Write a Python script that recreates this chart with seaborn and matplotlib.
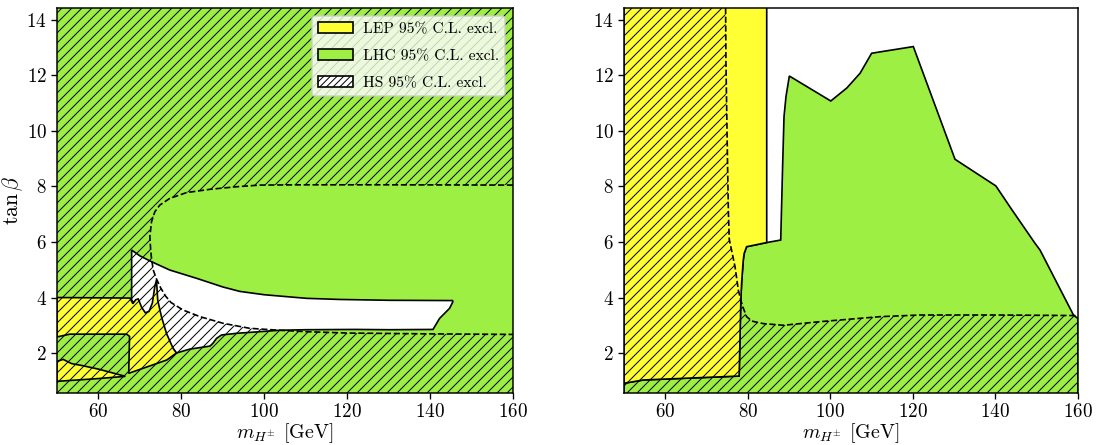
import numpy as np
import matplotlib
matplotlib.use("Agg")
import matplotlib.pyplot as plt
import seaborn as sns
from matplotlib.patches import Patch

# ---------------- data ----------------
# Left panel: LHC-allowed hole (white) inside the LHC excluded region
left_hole_x = [68.0, 70.0, 72.8, 77.2, 83.7, 90.0, 94.1, 100.0, 110.2, 118.2, 130.0, 145.4,
               145.5, 144.7, 142.3, 140.7, 130.0, 122.0, 110.0, 103.7, 93.3, 89.7, 88.5,
               87.6, 86.9, 82.0, 78.8, 74.0, 68.0]
left_hole_y = [5.71, 5.50, 5.29, 4.99, 4.69, 4.38, 4.22, 4.10, 3.97, 3.93, 3.90, 3.89,
               3.85, 3.61, 3.25, 2.85, 2.84, 2.85, 2.84, 2.82, 2.71, 2.65, 2.53,
               2.35, 2.25, 2.14, 2.00, 3.00, 3.90]

# Left panel: LEP excluded region (yellow), main part
left_lep_x = [50.0, 67.6, 68.3, 69.0, 69.6, 70.4, 71.3, 72.2, 73.0, 73.6, 74.0, 74.3, 75.2,
              76.4, 78.0, 78.8, 76.5, 67.3, 67.5, 66.8, 53.1, 50.0]
left_lep_y = [4.00, 3.98, 3.78, 3.92, 3.95, 3.65, 3.45, 3.50, 3.80, 4.40, 4.63, 3.90, 3.31,
              2.71, 2.17, 2.00, 1.75, 1.27, 2.60, 2.68, 2.68, 2.58]

# Left panel: LEP excluded region (yellow), lower sliver
left_lep2_x = [50.0, 51.5, 53.5, 56.0, 60.0, 63.0, 66.5, 60.0, 55.0, 50.0]
left_lep2_y = [1.70, 1.77, 1.62, 1.55, 1.42, 1.30, 1.16, 1.08, 1.03, 0.98]

# Left panel: HS allowed-region contour (dashed); outside is HS excluded
left_hs_x = [160.0, 130.0, 110.0, 98.9, 93.3, 87.0, 81.25, 77.2, 74.8, 73.6, 72.8, 72.4,
             72.6, 72.8, 73.2, 73.9, 75.0, 76.2, 77.5, 80.4, 84.5, 90.1, 96.5, 103.7,
             110.0, 120.0, 140.0, 160.0]
left_hs_y = [8.05, 8.06, 8.06, 8.05, 7.99, 7.90, 7.78, 7.57, 7.33, 7.09, 6.73, 6.19,
             5.71, 5.41, 5.00, 4.70, 4.35, 4.05, 3.82, 3.55, 3.31, 3.07, 2.89, 2.82,
             2.77, 2.72, 2.69, 2.67]

# Right panel: LHC excluded region (green)
right_lhc_x = [50.0, 160.0, 160.0, 158.9, 150.8, 149.6, 143.9, 140.1, 130.2, 120.1, 110.0,
               107.2, 104.0, 100.1, 90.06, 89.25, 88.77, 88.45, 87.97, 84.58, 79.7, 79.1,
               78.9, 78.7, 78.5, 78.3, 78.1, 77.9, 54.7, 50.0]
right_lhc_y = [0.40, 0.40, 3.24, 3.37, 5.71, 5.95, 7.18, 8.02, 8.98, 13.04, 12.80,
               12.08, 11.55, 11.08, 11.98, 11.24, 10.52, 8.84, 6.07, 5.98, 5.83, 5.58,
               5.35, 4.95, 4.54, 3.90, 2.50, 1.17, 1.03, 0.91]

# Right panel: LEP excluded region (yellow)
right_lep_x = [50.0, 54.7, 77.9, 78.1, 78.3, 78.5, 78.7, 78.9, 79.1, 79.7, 84.58, 84.58, 50.0]
right_lep_y = [0.91, 1.03, 1.17, 2.50, 3.90, 4.54, 4.95, 5.35, 5.58, 5.83, 5.98, 14.8, 14.8]

# Right panel: HS allowed-region contour (dashed)
right_hs_x = [74.6, 74.7, 74.9, 75.1, 75.3, 75.5, 76.9, 77.7, 78.3, 78.9, 79.7, 81.0,
              83.75, 88.6, 97.5, 112.0, 121.7, 140.0, 160.0]
right_hs_y = [14.8, 12.5, 10.6, 8.7, 7.04, 6.1, 5.11, 4.27, 3.90, 3.62, 3.31, 3.15,
              3.06, 3.00, 3.13, 3.31, 3.37, 3.37, 3.35]

x_ticks = [60, 80, 100, 120, 140, 160]
y_ticks = [2, 4, 6, 8, 10, 12, 14]
x_range = (50, 160)
y_range = (0.56, 14.43)

legend_labels = ["LEP 95% C.L. excl.", "LHC 95% C.L. excl.", "HS 95% C.L. excl."]

# ---------------- style ----------------
YELLOW = "#ffff33"
GREEN = "#9def44"

sns.set_style("ticks")
plt.rcParams.update({
    "font.family": ["cmr10", "DejaVu Serif"],
    "mathtext.fontset": "cm",
    "axes.formatter.use_mathtext": True,
    "axes.unicode_minus": False,
    "hatch.linewidth": 0.6,
    "text.color": "black",
    "axes.labelcolor": "black",
    "axes.edgecolor": "black",
    "xtick.color": "black",
    "ytick.color": "black",
    "axes.linewidth": 0.9,
})

DPI = 120
fig = plt.figure(figsize=(1096 / DPI, 445 / DPI), dpi=DPI)
W, H = 1096.0, 445.0
ax1 = fig.add_axes([57 / W, 1 - 393 / H, (513 - 57) / W, (393 - 8) / H])
ax2 = fig.add_axes([624 / W, 1 - 393 / H, (1078 - 624) / W, (393 - 8) / H])

LW = 1.0
HATCH = "////"


def hatch_outside(ax, cx, cy, closed_left):
    """Fill the HS-excluded region (complement of the dashed contour) with hatch."""
    x0, x1 = x_range
    y0, y1 = y_range[0] - 0.5, y_range[1] + 0.5
    if closed_left:
        hx = [x1, x0, x0, x1] + list(cx[::-1])
        hy = [y1, y1, y0, y0] + list(cy[::-1])
    else:
        hx = [cx[0], x0, x0, x1] + list(cx[::-1])
        hy = [y1, y1, y0, y0] + list(cy[::-1])
    ax.fill(hx, hy, facecolor="none", edgecolor="black", linewidth=0,
            hatch=HATCH, zorder=5)


# ---- left panel ----
ax1.set_facecolor(GREEN)
ax1.fill(left_hole_x, left_hole_y, facecolor="white", edgecolor="black", linewidth=LW, zorder=2)
ax1.fill(left_lep_x, left_lep_y, facecolor=YELLOW, edgecolor="black", linewidth=LW, zorder=3)
ax1.fill(left_lep2_x, left_lep2_y, facecolor=YELLOW, edgecolor="black", linewidth=LW, zorder=3)
hatch_outside(ax1, left_hs_x, left_hs_y, closed_left=True)
sns.lineplot(x=left_hs_x, y=left_hs_y, ax=ax1, sort=False, estimator=None,
             color="black", linestyle="--", linewidth=LW, zorder=6, legend=False)

# ---- right panel ----
ax2.set_facecolor("white")
ax2.fill(right_lhc_x, right_lhc_y, facecolor=GREEN, edgecolor="black", linewidth=LW, zorder=2)
ax2.fill(right_lep_x, right_lep_y, facecolor=YELLOW, edgecolor="black", linewidth=LW, zorder=3)
hatch_outside(ax2, right_hs_x, right_hs_y, closed_left=False)
sns.lineplot(x=right_hs_x, y=right_hs_y, ax=ax2, sort=False, estimator=None,
             color="black", linestyle="--", linewidth=LW, zorder=6, legend=False)

for ax in (ax1, ax2):
    ax.set_xlim(*x_range)
    ax.set_ylim(*y_range)
    ax.set_xticks(x_ticks)
    ax.set_yticks(y_ticks)
    ax.tick_params(labelsize=11.5, length=3.5, width=0.8, pad=2.5)
    ax.set_xlabel(r"$m_{H^{\pm}}$ [GeV]", fontsize=12, labelpad=0)
    for s in ax.spines.values():
        s.set_zorder(10)

ax1.set_ylabel(r"$\tan\beta$", fontsize=13, labelpad=1)

handles = [
    Patch(facecolor=YELLOW, edgecolor="black", linewidth=LW),
    Patch(facecolor=GREEN, edgecolor="black", linewidth=LW),
    Patch(facecolor="white", edgecolor="black", linewidth=LW, hatch="//////"),
]
leg = ax1.legend(handles, legend_labels, loc="upper right", fontsize=9.3,
                 framealpha=0.8, fancybox=True, labelspacing=0.85,
                 handlelength=2.25, handletextpad=0.65)
leg.set_zorder(20)

fig.savefig("out.png", dpi=DPI)
